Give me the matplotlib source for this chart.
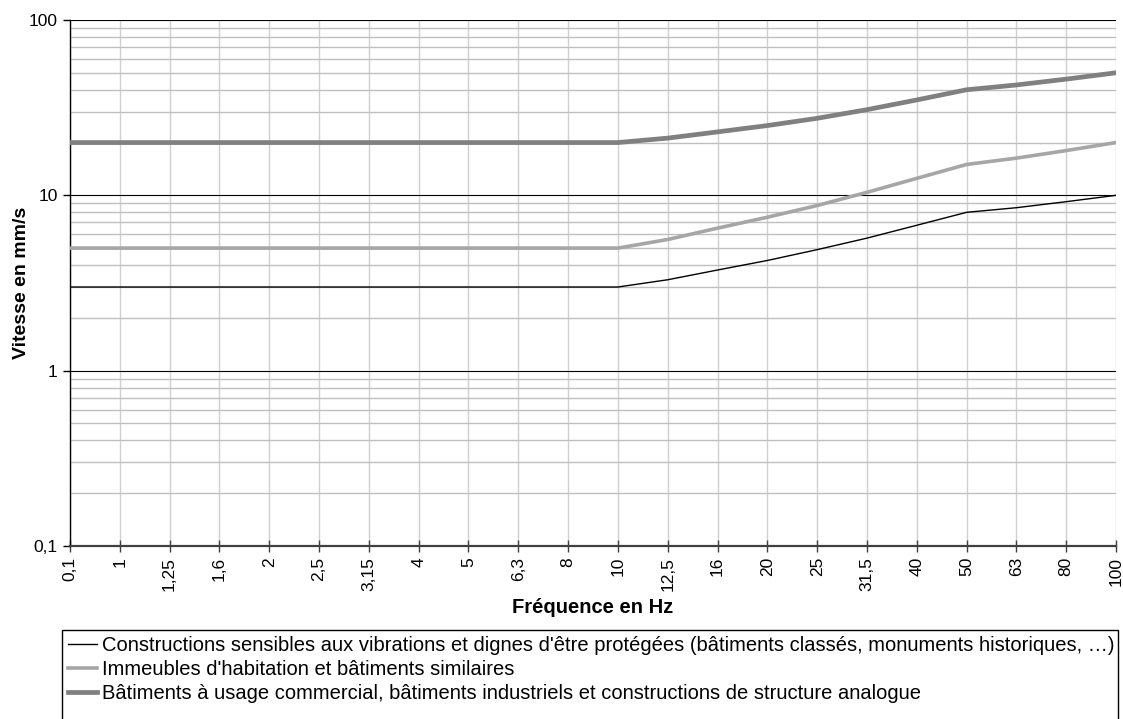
"""
Vibration velocity limits per building class vs frequency.
"""
import matplotlib
matplotlib.use("Agg")
import matplotlib.pyplot as plt
from matplotlib.patches import Rectangle
from matplotlib.ticker import LogLocator, NullFormatter, FixedLocator

plt.rcParams["font.family"] = ["Liberation Sans", "DejaVu Sans"]

# data
frequencies = ["0,1", "1", "1,25", "1,6", "2", "2,5", "3,15", "4", "5", "6,3", "8",
               "10", "12,5", "16", "20", "25", "31,5", "40", "50", "63", "80", "100"]
sensibles = [3, 3, 3, 3, 3, 3, 3, 3, 3, 3, 3,
             3, 3.3, 3.75, 4.25, 4.9, 5.7, 6.75, 8, 8.5, 9.2, 10]
habitation = [5, 5, 5, 5, 5, 5, 5, 5, 5, 5, 5,
              5, 5.6, 6.5, 7.5, 8.75, 10.4, 12.5, 15, 16.3, 18, 20]
commercial = [20, 20, 20, 20, 20, 20, 20, 20, 20, 20, 20,
              20, 21.2, 23, 25, 27.5, 30.8, 35, 40, 42.6, 46, 50]
y_ticks = [0.1, 1, 10, 100]
y_labels = ["0,1", "1", "10", "100"]
labels = [
    "Constructions sensibles aux vibrations et dignes d'être protégées (bâtiments classés, monuments historiques, …)",
    "Immeubles d'habitation et bâtiments similaires",
    "Bâtiments à usage commercial, bâtiments industriels et constructions de structure analogue",
]

W, H = 1123, 719
fig = plt.figure(figsize=(W / 100, H / 100), dpi=100)
ax = fig.add_axes([70 / W, 1 - 546 / H, (1116 - 70) / W, (546 - 20) / H])

x = list(range(len(frequencies)))
l1, = ax.plot(x, sensibles, color="black", lw=1.0, zorder=5)
l2, = ax.plot(x, habitation, color="#a6a6a6", lw=2.6, zorder=5)
l3, = ax.plot(x, commercial, color="#808080", lw=3.4, zorder=5)

ax.set_yscale("log")
ax.set_ylim(0.1, 100)
ax.set_xlim(0, len(frequencies) - 1)

ax.yaxis.set_major_locator(FixedLocator(y_ticks))
ax.set_yticklabels(y_labels)
ax.yaxis.set_minor_locator(LogLocator(base=10, subs=range(2, 10)))
ax.yaxis.set_minor_formatter(NullFormatter())
ax.tick_params(axis="y", which="minor", length=0)
ax.tick_params(axis="y", which="major", length=5, width=1, color="black", labelsize=12.5, pad=4)

ax.set_xticks(x)
ax.set_xticklabels(frequencies, rotation=90)
ax.tick_params(axis="x", direction="inout", length=8, width=1, color="#404040", labelsize=12.5, pad=4)

# grid
ax.grid(True, which="major", axis="y", color="black", lw=0.8)
ax.grid(True, which="minor", axis="y", color="#bfbfbf", lw=1.0)
ax.grid(True, which="major", axis="x", color="#d0d0d0", lw=1.0)
ax.set_axisbelow(True)

for s in ["top", "right"]:
    ax.spines[s].set_visible(False)
ax.spines["left"].set_color("black")
ax.spines["left"].set_linewidth(1.0)
ax.spines["bottom"].set_color("#404040")
ax.spines["bottom"].set_linewidth(1.6)

ax.set_xlabel("Fréquence en Hz", fontsize=14.5, fontweight="bold")
ax.set_ylabel("Vitesse en mm/s", fontsize=14, fontweight="bold")
ax.xaxis.set_label_coords(0.5, (546 - 598) / 526)
ax.yaxis.set_label_coords((30 - 70) / 1046, 0.5)

# legend box runs off the bottom of the picture, like the original
fig.patches.append(Rectangle((62 / W, -0.05), (1118 - 62) / W, 0.05 + (H - 630) / H,
                             transform=fig.transFigure, facecolor="none",
                             edgecolor="black", lw=1.0, clip_on=False))
fig.legend([l1, l2, l3], labels, loc="upper left",
           bbox_to_anchor=(62 / W, 1 - 630 / H), fontsize=14.5,
           frameon=False, handlelength=1.45, handletextpad=0.25,
           labelspacing=0.25, borderpad=0.3, borderaxespad=0)

plt.savefig("out.png", dpi=100)
plt.close()
